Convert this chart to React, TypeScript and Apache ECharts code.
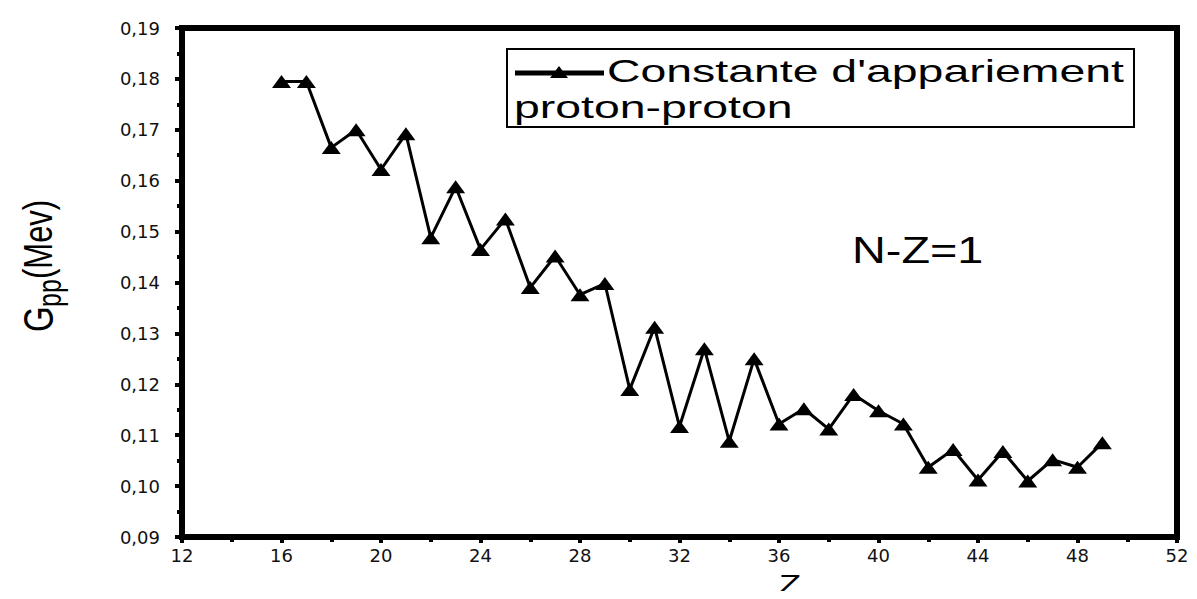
import React, { useEffect, useRef } from "react";
import * as echarts from "echarts";

const zValues = [16, 17, 18, 19, 20, 21, 22, 23, 24, 25, 26, 27, 28, 29, 30, 31, 32, 33, 34, 35, 36, 37, 38, 39, 40, 41, 42, 43, 44, 45, 46, 47, 48, 49];
const gppValues = [0.1795, 0.1795, 0.1665, 0.170, 0.1622, 0.1692, 0.1488, 0.1588, 0.1465, 0.1525, 0.139, 0.1452, 0.1376, 0.1398, 0.119, 0.1312, 0.1117, 0.127, 0.1088, 0.125, 0.1122, 0.1152, 0.1112, 0.118, 0.1148, 0.1122, 0.1037, 0.1072, 0.1012, 0.1068, 0.101, 0.1052, 0.1037, 0.1085];
const legendLine1 = "Constante d'appariement";
const legendLine2 = "proton-proton";
const annotation = "N-Z=1";
const xName = "Z";

const FONT = "'Liberation Sans', Arial, sans-serif";
const TICK_FONT = "'DejaVu Sans', sans-serif";

const GRID_LEFT = 182;
const GRID_TOP = 28;
const GRID_RIGHT = 20;
const GRID_BOTTOM = 62;
const W = 1197;
const H = 599;

export default function App() {
  const ref = useRef<HTMLDivElement>(null);
  useEffect(() => {
    if (!ref.current) return;
    const chart = echarts.init(ref.current, null, { renderer: "svg" });
    const data = zValues.map((z, i) => [z, gppValues[i]]);
    chart.setOption({
      animation: false,
      backgroundColor: "#fff",
      grid: { left: GRID_LEFT, right: GRID_RIGHT, top: GRID_TOP, bottom: GRID_BOTTOM, containLabel: false, show: false },
      xAxis: [
        {
          type: "value",
          min: 12,
          max: 52,
          position: "top",
          axisLine: { show: true, onZero: false, lineStyle: { color: "#000", width: 6 } },
          axisTick: { show: false },
          axisLabel: { show: false },
          splitLine: { show: false },
        },
        {
          type: "value",
          min: 12,
          max: 52,
          interval: 4,
          position: "bottom",
          axisLine: { show: true, onZero: false, lineStyle: { color: "#000", width: 6 } },
          axisTick: { show: true, inside: false, length: 6, lineStyle: { color: "#000", width: 4 } },
          minorTick: { show: true, splitNumber: 2, length: 5, lineStyle: { color: "#000", width: 4 } },
          splitLine: { show: false },
          minorSplitLine: { show: false },
          axisLabel: { color: "#111", fontSize: 18, fontFamily: TICK_FONT, margin: 9 },
        },
      ],
      yAxis: [
        {
          type: "value",
          min: 0.09,
          max: 0.19,
          position: "right",
          axisLine: { show: true, onZero: false, lineStyle: { color: "#000", width: 6 } },
          axisTick: { show: false },
          axisLabel: { show: false },
          splitLine: { show: false },
        },
        {
          type: "value",
          min: 0.09,
          max: 0.19,
          interval: 0.01,
          position: "left",
          axisLine: { show: true, onZero: false, lineStyle: { color: "#000", width: 6 } },
          axisTick: { show: true, inside: false, length: 7, lineStyle: { color: "#000", width: 4 } },
          minorTick: { show: true, splitNumber: 2, length: 5, lineStyle: { color: "#000", width: 4 } },
          splitLine: { show: false },
          minorSplitLine: { show: false },
          axisLabel: {
            color: "#111",
            fontSize: 18,
            fontFamily: TICK_FONT,
            margin: 22,
            formatter: (v: number) => v.toFixed(2).replace(".", ","),
          },
        },
      ],
      series: [
        {
          type: "line",
          xAxisIndex: 1,
          yAxisIndex: 1,
          data,
          symbol: "triangle",
          symbolSize: [19, 13],
          lineStyle: { color: "#000", width: 3 },
          itemStyle: { color: "#000" },
          z: 5,
        },
      ],
      graphic: [
        {
          type: "rect",
          shape: { x: GRID_LEFT, y: GRID_TOP, width: W - GRID_LEFT - GRID_RIGHT, height: H - GRID_TOP - GRID_BOTTOM },
          style: { fill: "none", stroke: "#000", lineWidth: 6 },
          silent: true,
          z: 12,
        },
        {
          type: "rect",
          shape: { x: 507, y: 49, width: 627, height: 78 },
          style: { fill: "#fff", stroke: "#000", lineWidth: 2 },
          z: 10,
        },
        {
          type: "line",
          shape: { x1: 515, y1: 73, x2: 604, y2: 73 },
          style: { stroke: "#000", lineWidth: 5 },
          z: 11,
        },
        {
          type: "polygon",
          shape: { points: [[550, 78], [568, 78], [559, 66]] },
          style: { fill: "#000" },
          z: 11,
        },
        {
          type: "text",
          x: 607,
          y: 71,
          scaleX: 1.45,
          style: { text: legendLine1, font: `32px ${FONT}`, fill: "#000", verticalAlign: "middle", align: "left" },
          z: 11,
        },
        {
          type: "text",
          x: 514,
          y: 107,
          scaleX: 1.45,
          style: { text: legendLine2, font: `32px ${FONT}`, fill: "#000", verticalAlign: "middle", align: "left" },
          z: 11,
        },
        {
          type: "text",
          x: 852,
          y: 250,
          scaleX: 1.3,
          style: { text: annotation, font: `36px ${FONT}`, fill: "#000", verticalAlign: "middle", align: "left" },
          z: 11,
        },
        {
          type: "text",
          x: 790,
          y: 597,
          scaleX: 1.4,
          style: { text: xName, font: `26px ${FONT}`, fill: "#000", verticalAlign: "bottom", align: "center" },
          z: 11,
        },
        {
          type: "group",
          x: 38,
          y: 332,
          rotation: Math.PI / 2,
          scaleY: 1.3,
          z: 11,
          children: [
            { type: "text", x: 0, y: 0, style: { text: "G", font: `33px ${FONT}`, fill: "#000", verticalAlign: "middle", align: "left" } },
            { type: "text", x: 25, y: 9, style: { text: "pp", font: `25px ${FONT}`, fill: "#000", verticalAlign: "middle", align: "left" } },
            { type: "text", x: 53, y: 0, style: { text: "(Mev)", font: `31px ${FONT}`, fill: "#000", verticalAlign: "middle", align: "left" } },
          ],
        },
      ],
    });
    return () => chart.dispose();
  }, []);
  return <div ref={ref} style={{ width: W, height: H, margin: -8 }} />;
}
